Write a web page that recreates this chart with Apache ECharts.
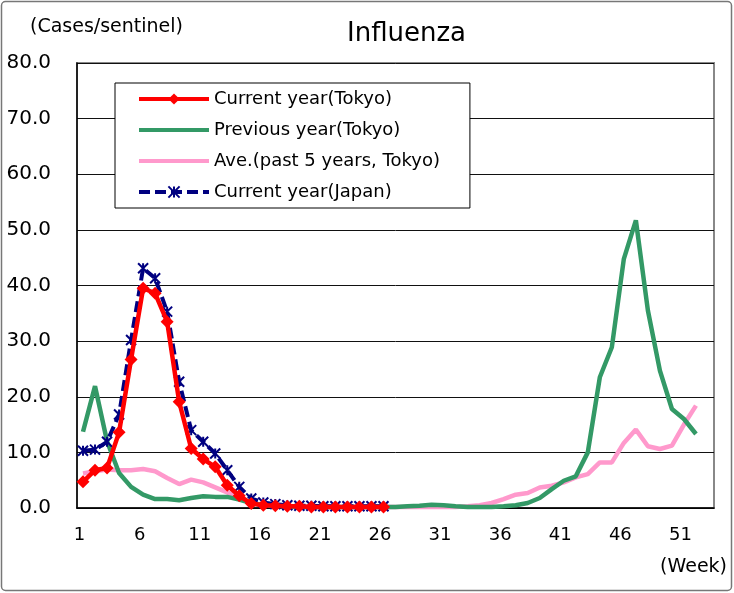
<!DOCTYPE html>
<html>
<head>
<meta charset="utf-8">
<script src="https://cdn.jsdelivr.net/npm/echarts@6/dist/echarts.min.js"></script>
<style>
  html, body { margin: 0; padding: 0; background: #fff; }
  #chart { width: 734px; height: 593px; }
</style>
</head>
<body>
<div id="chart"></div>
<script>
// weeks 1..53 on the category axis
const weeks = [
  "1", "2", "3", "4", "5", "6", "7", "8", "9", "10",
  "11", "12", "13", "14", "15", "16", "17", "18", "19", "20",
  "21", "22", "23", "24", "25", "26", "27", "28", "29", "30",
  "31", "32", "33", "34", "35", "36", "37", "38", "39", "40",
  "41", "42", "43", "44", "45", "46", "47", "48", "49", "50",
  "51", "52", "53"
];

// current year, Tokyo (weeks 1-26)
const currentTokyo = [
  4.7, 6.8, 7.2, 13.6, 26.7, 39.5, 38.6, 33.5, 19.1, 10.7,
  8.8, 7.4, 4.1, 2.2, 0.8, 0.5, 0.4, 0.3, 0.3, 0.2,
  0.2, 0.2, 0.2, 0.2, 0.2, 0.2
];

// previous year, Tokyo (weeks 1-52)
const previousTokyo = [
  13.7, 21.9, 12.0, 6.3, 3.8, 2.4, 1.6, 1.6, 1.4, 1.8,
  2.1, 2.0, 2.0, 1.5, 0.9, 0.5, 0.4, 0.3, 0.2, 0.2,
  0.2, 0.2, 0.2, 0.2, 0.2, 0.2, 0.2, 0.3, 0.4, 0.6,
  0.5, 0.3, 0.2, 0.2, 0.2, 0.3, 0.5, 0.9, 1.8, 3.4,
  4.9, 5.7, 10.0, 23.5, 28.9, 44.8, 51.7, 35.5, 24.7, 17.8,
  16.0, 13.3
];

// average of past 5 years, Tokyo (weeks 1-52)
const avgTokyo = [
  6.2, 6.6, 6.9, 6.8, 6.8, 7.0, 6.6, 5.4, 4.3, 5.1,
  4.6, 3.7, 2.8, 1.9, 0.9, 0.6, 0.4, 0.3, 0.2, 0.2,
  0.2, 0.2, 0.2, 0.2, 0.2, 0.2, 0.2, 0.2, 0.2, 0.2,
  0.2, 0.2, 0.3, 0.5, 0.9, 1.6, 2.4, 2.7, 3.7, 4.0,
  4.6, 5.5, 6.1, 8.2, 8.2, 11.7, 14.1, 11.1, 10.6, 11.2,
  15.0, 18.4
];

// current year, Japan (weeks 1-26)
const currentJapan = [
  10.3, 10.5, 11.9, 16.8, 30.2, 43.1, 41.3, 35.3, 22.7, 14.0,
  11.9, 9.8, 6.8, 3.8, 1.7, 1.0, 0.7, 0.5, 0.4, 0.4,
  0.3, 0.3, 0.3, 0.3, 0.3, 0.3
];

const yTicks = [0, 10, 20, 30, 40, 50, 60, 70, 80];

const font = "DejaVu Sans";
const chart = echarts.init(document.getElementById("chart"));

// asterisk marker, drawn as strokes
const asterisk = "path://M0,0 L10,10 M10,0 L0,10 M5,0 L5,10";

const option = {
  animation: false,
  textStyle: { fontFamily: font, color: "#000" },
  title: {
    text: "Influenza",
    left: 347,
    top: 21,
    padding: 0,
    textStyle: { fontFamily: font, fontSize: 26, fontWeight: "normal", color: "#000" }
  },
  legend: {
    orient: "vertical",
    left: 115,
    top: 83,
    padding: [6, 30, 6, 22],
    itemWidth: 70,
    itemHeight: 14,
    itemGap: 11,
    backgroundColor: "#fff",
    borderColor: "#000",
    borderWidth: 1,
    borderRadius: 0,
    lineStyle: { width: 4 },
    textStyle: { fontFamily: font, fontSize: 18, lineHeight: 20, color: "#000" },
    data: ["Current year(Tokyo)", "Previous year(Tokyo)", "Ave.(past 5 years, Tokyo)", "Current year(Japan)"]
  },
  grid: {
    left: 77,
    top: 63,
    width: 637,
    height: 445,
    show: true,
    borderColor: "#888",
    borderWidth: 2
  },
  xAxis: {
    type: "category",
    data: weeks,
    boundaryGap: true,
    axisLine: { lineStyle: { color: "#000", width: 1.5 } },
    axisTick: { inside: true, length: 6, interval: 4, lineStyle: { color: "#000" } },
    axisLabel: { interval: 4, margin: 18, fontSize: 18, color: "#000", padding: [0, 7, 0, 0] },
    splitLine: { show: false }
  },
  yAxis: {
    type: "value",
    min: yTicks[0],
    max: yTicks[yTicks.length - 1],
    interval: 10,
    axisLine: { show: true, lineStyle: { color: "#000", width: 1.5 } },
    axisTick: { show: false },
    axisLabel: {
      margin: 26,
      fontSize: 20,
      color: "#000",
      formatter: (v) => v.toFixed(1)
    },
    splitLine: { lineStyle: { color: "#111", width: 1 } }
  },
  series: [
    {
      name: "Current year(Tokyo)",
      type: "line",
      data: currentTokyo,
      z: 5,
      symbol: "diamond",
      symbolSize: 13,
      showAllSymbol: true,
      lineStyle: { color: "#FF0000", width: 4.5 },
      itemStyle: { color: "#FF0000" }
    },
    {
      name: "Previous year(Tokyo)",
      type: "line",
      data: previousTokyo,
      z: 3,
      symbol: "none",
      lineStyle: { color: "#339966", width: 4.5 },
      itemStyle: { color: "rgba(0,0,0,0)" }
    },
    {
      name: "Ave.(past 5 years, Tokyo)",
      type: "line",
      data: avgTokyo,
      z: 2,
      symbol: "none",
      lineStyle: { color: "#FF99CC", width: 4.5 },
      itemStyle: { color: "rgba(0,0,0,0)" }
    },
    {
      name: "Current year(Japan)",
      type: "line",
      data: currentJapan,
      z: 4,
      symbol: asterisk,
      symbolSize: 10,
      showAllSymbol: true,
      lineStyle: { color: "#000080", width: 4, type: [11, 5] },
      itemStyle: { color: "rgba(0,0,0,0)", borderColor: "#000080", borderWidth: 2 }
    }
  ],
  graphic: [
    {
      type: "rect",
      shape: { x: 1.5, y: 1.5, width: 730, height: 589, r: 4 },
      style: { fill: "none", stroke: "#777", lineWidth: 1.5 },
      silent: true
    },
    {
      type: "text",
      left: 30,
      top: 18,
      style: { text: "(Cases/sentinel)", font: "19px " + font, fill: "#000" }
    },
    {
      type: "text",
      right: 7,
      top: 558,
      style: { text: "(Week)", font: "19px " + font, fill: "#000" }
    }
  ]
};

chart.setOption(option);
</script>
</body>
</html>
